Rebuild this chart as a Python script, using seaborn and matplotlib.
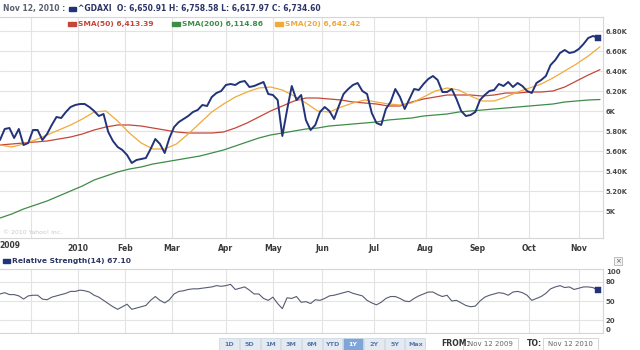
import numpy as np
import pandas as pd
import matplotlib
matplotlib.use("Agg")
import matplotlib.pyplot as plt
from matplotlib.patches import Rectangle
import seaborn as sns

# ---------------- data ----------------
start_date, end_date = "2009-11-12", "2010-11-12"
holidays = ["2009-12-24", "2009-12-25", "2009-12-31", "2010-01-01",
            "2010-04-02", "2010-04-05"]

# ^GDAXI close, every 2nd trading day
price = [5710, 5820, 5830, 5730, 5820, 5660, 5680, 5810, 5810, 5710,
         5770, 5860, 5940, 5930, 5990, 6040, 6060, 6070, 6070, 6040,
         6000, 5950, 5970, 5790, 5700, 5640, 5610, 5560, 5480, 5510,
         5520, 5530, 5620, 5720, 5670, 5580, 5730, 5840, 5890, 5920,
         5950, 5990, 6010, 6060, 6050, 6140, 6180, 6200, 6260, 6270,
         6260, 6290, 6300, 6240, 6250, 6270, 6290, 6170, 6160, 6110,
         5750, 6010, 6250, 6110, 6160, 5910, 5810, 5860, 5990, 6040,
         6000, 5920, 6050, 6170, 6220, 6260, 6280, 6200, 6170, 5980,
         5880, 5860, 6020, 6090, 6220, 6140, 6020, 6120, 6220, 6210,
         6270, 6320, 6350, 6310, 6190, 6190, 6220, 6120, 6000, 5950,
         5960, 5990, 6110, 6160, 6200, 6210, 6270, 6250, 6290, 6240,
         6280, 6250, 6200, 6180, 6280, 6310, 6350, 6460, 6510, 6580,
         6610, 6580, 6590, 6620, 6670, 6730, 6750, 6734.60]

# moving averages, every 5th trading day + last day
sma20 = [5660, 5640, 5670, 5710, 5760, 5810, 5860, 5920, 5990, 6000,
         5900, 5780, 5680, 5620, 5620, 5670, 5770, 5880, 5990, 6070,
         6140, 6190, 6230, 6240, 6210, 6150, 6080, 6000, 5990, 6040,
         6080, 6110, 6090, 6070, 6060, 6080, 6140, 6200, 6230, 6210,
         6150, 6100, 6100, 6140, 6190, 6230, 6270, 6330, 6400, 6470,
         6550, 6642.42]
sma50 = [5660, 5670, 5680, 5690, 5700, 5720, 5740, 5770, 5810, 5840,
         5860, 5860, 5850, 5830, 5810, 5790, 5780, 5780, 5780, 5790,
         5830, 5880, 5940, 6000, 6050, 6100, 6130, 6130, 6120, 6110,
         6090, 6080, 6070, 6050, 6050, 6090, 6120, 6140, 6160, 6160,
         6160, 6150, 6160, 6180, 6180, 6190, 6190, 6200, 6240, 6300,
         6360, 6413.39]
sma200 = [4930, 4970, 5020, 5060, 5100, 5150, 5200, 5250, 5310, 5350,
          5390, 5420, 5440, 5470, 5490, 5510, 5530, 5550, 5580, 5610,
          5650, 5690, 5730, 5760, 5780, 5800, 5820, 5830, 5850, 5860,
          5870, 5880, 5890, 5910, 5920, 5930, 5950, 5960, 5970, 5990,
          6000, 6010, 6020, 6030, 6040, 6050, 6060, 6070, 6090, 6100,
          6110, 6114.86]

# Relative Strength(14), every 2nd trading day
rsi = [61, 63, 60, 60, 58, 53, 58, 59, 59, 53, 52, 56, 58, 60, 62, 65,
       65, 67, 66, 64, 59, 56, 51, 46, 41, 37, 41, 45, 37, 39, 41, 43,
       51, 57, 51, 47, 52, 61, 65, 66, 68, 69, 69, 70, 71, 72, 74, 73,
       74, 76, 68, 70, 72, 67, 61, 61, 54, 51, 56, 46, 38, 55, 54, 57,
       48, 49, 46, 52, 51, 54, 58, 59, 61, 63, 65, 62, 60, 58, 51, 47,
       44, 48, 54, 57, 57, 54, 50, 49, 54, 58, 61, 64, 64, 60, 57, 59,
       50, 51, 47, 43, 41, 42, 50, 56, 59, 61, 63, 62, 59, 64, 65, 63,
       59, 51, 54, 57, 62, 69, 72, 74, 71, 72, 68, 70, 72, 72, 71, 67.10]

month_labels = ["", "2010", "Feb", "Mar", "Apr", "May", "Jun", "Jul",
                "Aug", "Sep", "Oct", "Nov"]
first_label = "2009"
price_ticks = [5000, 5200, 5400, 5600, 5800, 6000, 6200, 6400, 6600, 6800]
price_tick_labels = ["5K", "5.20K", "5.40K", "5.60K", "5.80K", "6K",
                     "6.20K", "6.40K", "6.60K", "6.80K"]
rsi_ticks = [0, 20, 50, 80, 100]

header_date = "Nov 12, 2010 :"
header_quote = "^GDAXI  O: 6,650.91 H: 6,758.58 L: 6,617.97 C: 6,734.60"
legend_items = [("SMA(50) 6,413.39", "#c4463a"),
                ("SMA(200) 6,114.86", "#3f8c48"),
                ("SMA(20) 6,642.42", "#f0aa3a")]
rsi_title = "Relative Strength(14) 67.10"
range_buttons = ["1D", "5D", "1M", "3M", "6M", "YTD", "1Y", "2Y", "5Y", "Max"]
active_button = "1Y"
from_date, to_date = "Nov 12 2009", "Nov 12 2010"

# ---------------- build frames ----------------
days = pd.bdate_range(start_date, end_date)
days = days[~days.isin(pd.to_datetime(holidays))]
n = len(days)
last = n - 1

p_idx = np.arange(0, n, 2)[:len(price)]
df_p = pd.DataFrame({"t": p_idx, "v": price})
s_idx = list(range(0, n - 1, 5))
if s_idx[-1] != last:
    s_idx.append(last)
s_idx = np.array(s_idx[:len(sma20)])
df_s = pd.DataFrame({"t": s_idx, "s20": sma20, "s50": sma50, "s200": sma200})
df_r = pd.DataFrame({"t": p_idx[:len(rsi)], "v": rsi})

ser = pd.Series(np.arange(n), index=days)
month_first = ser.groupby(days.to_period("M")).first().values[1:]

# ---------------- figure ----------------
sns.set_theme(style="white")
plt.rcParams["font.family"] = ["DejaVu Sans"]
W, H = 640, 350
fig = plt.figure(figsize=(W / 100, H / 100), dpi=100)
fig.patch.set_facecolor("white")


def fx(x):
    return x / W


def fy(y):
    return 1 - y / H


NAVY = "#22337a"
GRID = "#e3e3e3"
EDGE = "#d6d6d6"

ax = fig.add_axes([0, fy(238), 603 / W, (238 - 17) / H])
ax2 = fig.add_axes([0, fy(333), 603 / W, (333 - 269) / H])

xmax = last * 603 / 600
for a in (ax, ax2):
    a.set_xlim(0, xmax)
    a.set_xticks(month_first)
    a.grid(True, color=GRID, lw=0.8)
    a.set_axisbelow(True)
    a.yaxis.tick_right()
    for s in ("top", "right", "bottom"):
        a.spines[s].set_color(EDGE)
        a.spines[s].set_linewidth(0.8)
    a.spines["left"].set_visible(False)

# main price panel
sns.lineplot(data=df_s, x="t", y="s200", ax=ax, color="#3f8c48", lw=0.9)
sns.lineplot(data=df_s, x="t", y="s50", ax=ax, color="#c4463a", lw=0.9)
sns.lineplot(data=df_s, x="t", y="s20", ax=ax, color="#f0aa3a", lw=0.9)
sns.lineplot(data=df_p, x="t", y="v", ax=ax, color=NAVY, lw=1.4)
sns.scatterplot(x=df_p["t"].iloc[-1:], y=df_p["v"].iloc[-1:], ax=ax,
                color=NAVY, marker="s", s=18, edgecolor=NAVY, zorder=5)
ax.set_ylim(4730, 6940)
ax.set_yticks(price_ticks)
ax.set_yticklabels(price_tick_labels)
ax.set_xticklabels(month_labels)
ax.set_xlabel("")
ax.set_ylabel("")
ax.tick_params(axis="y", length=0, pad=2, labelsize=4.9, labelcolor="#4a4a4a")
ax.tick_params(axis="x", length=0, pad=4, labelsize=5.5, labelcolor="#3a3a3a")
for lbl in ax.get_yticklabels() + ax.get_xticklabels():
    lbl.set_fontweight("bold")
ax.text(4.2, -8 / 221, first_label, transform=ax.get_xaxis_transform(),
        ha="center", va="center", fontsize=5.5, fontweight="bold",
        color="#3a3a3a")
ax.text(3 / 603, 5 / 221, "\u00a9 2010 Yahoo! Inc.", transform=ax.transAxes,
        ha="left", va="center", fontsize=4.4, color="#c8c8c8")

# RSI panel
sns.lineplot(data=df_r, x="t", y="v", ax=ax2, color="#565c72", lw=0.8)
sns.scatterplot(x=df_r["t"].iloc[-1:], y=df_r["v"].iloc[-1:], ax=ax2,
                color=NAVY, marker="s", s=14, edgecolor=NAVY, zorder=5)
ax2.set_ylim(0, 100)
ax2.set_yticks(rsi_ticks)
ax2.set_yticklabels([str(v) for v in rsi_ticks])
ax2.set_xticklabels([])
ax2.set_xlabel("")
ax2.set_ylabel("")
ax2.tick_params(axis="y", length=0, pad=2, labelsize=5, labelcolor="#4a4a4a")
ax2.tick_params(axis="x", length=0)
for lbl in ax2.get_yticklabels():
    lbl.set_fontweight("bold")
    if lbl.get_text() == "100":
        lbl.set_va("top")
    elif lbl.get_text() == "0":
        lbl.set_va("bottom")

# ---------------- header texts ----------------
fig.text(fx(3), fy(9), header_date, fontsize=5.5, fontweight="bold",
         color="#5a6070", va="center", ha="left")
fig.patches.append(Rectangle((fx(69), fy(11)), 7 / W, 4 / H,
                             transform=fig.transFigure, color=NAVY))
fig.text(fx(78), fy(9), header_quote, fontsize=5.5, fontweight="bold",
         color="#2c3566", va="center", ha="left")

leg_x = [68, 172, 275]
for (txt, col), x0 in zip(legend_items, leg_x):
    fig.patches.append(Rectangle((fx(x0), fy(26)), 8 / W, 4 / H,
                                 transform=fig.transFigure, color=col))
    fig.text(fx(x0 + 10), fy(24), txt, fontsize=5.4, fontweight="bold",
             color=col, va="center", ha="left")

fig.patches.append(Rectangle((fx(3), fy(263)), 7 / W, 4 / H,
                             transform=fig.transFigure, color=NAVY))
fig.text(fx(12), fy(261), rsi_title, fontsize=5.4, fontweight="bold",
         color="#2c3566", va="center", ha="left")

# close box
fig.patches.append(Rectangle((fx(614), fy(265)), 8 / W, 8 / H,
                             transform=fig.transFigure, facecolor="#f3f3f3",
                             edgecolor="#b5b5b5", lw=0.6))
fig.text(fx(618), fy(261), "\u00d7", fontsize=5, color="#555555",
         ha="center", va="center")

# range buttons
bw = 20.7
for i, b in enumerate(range_buttons):
    cx = 229 + i * bw
    active = (b == active_button)
    fig.patches.append(Rectangle((fx(cx - bw / 2 + 0.5), fy(350)), (bw - 1) / W,
                                 12 / H, transform=fig.transFigure,
                                 facecolor="#7fa6d9" if active else "#e4eaf2",
                                 edgecolor="#c8d2de", lw=0.5))
    fig.text(fx(cx), fy(344), b, fontsize=4.6, fontweight="bold",
             color="white" if active else "#5a79a8", ha="center", va="center")

fig.text(fx(441), fy(344), "FROM:", fontsize=5.6, fontweight="bold",
         color="#333333", ha="left", va="center")
fig.patches.append(Rectangle((fx(463), fy(351)), 55 / W, 13 / H,
                             transform=fig.transFigure, facecolor="white",
                             edgecolor="#d0d0d0", lw=0.6))
fig.text(fx(490.5), fy(344), from_date, fontsize=5, color="#666666",
         ha="center", va="center")
fig.text(fx(527), fy(344), "TO:", fontsize=5.6, fontweight="bold",
         color="#333333", ha="left", va="center")
fig.patches.append(Rectangle((fx(543), fy(351)), 55 / W, 13 / H,
                             transform=fig.transFigure, facecolor="white",
                             edgecolor="#d0d0d0", lw=0.6))
fig.text(fx(570.5), fy(344), to_date, fontsize=5, color="#666666",
         ha="center", va="center")

fig.savefig("out.png", dpi=100, facecolor="white")
